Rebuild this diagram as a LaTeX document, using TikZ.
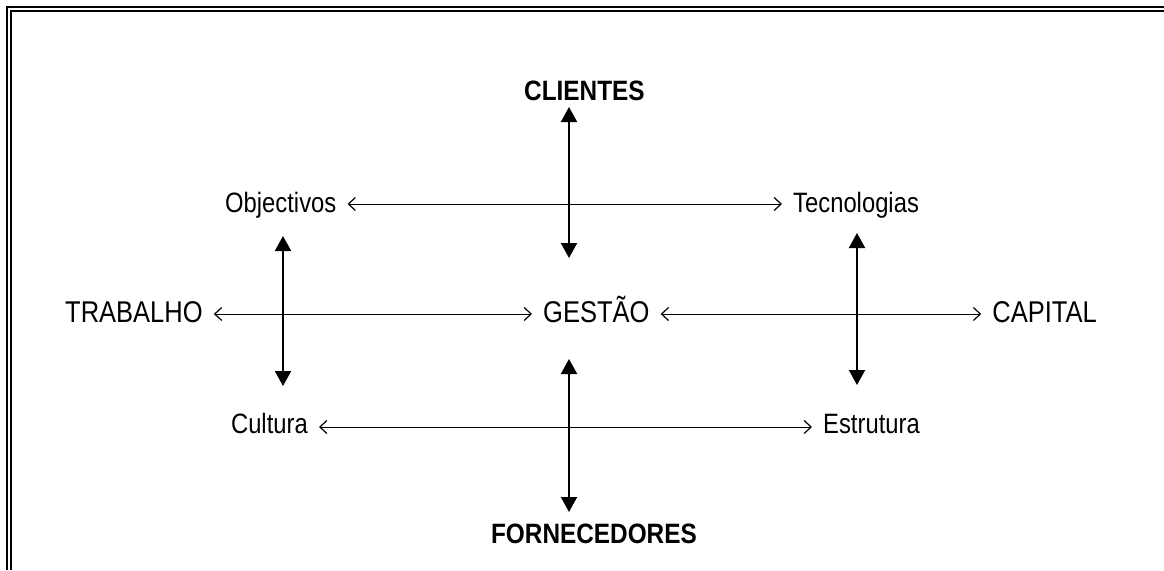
\documentclass[tikz,border=0pt]{standalone}
\usepackage{fontspec}
\newfontfamily\narrowsans[FakeStretch=0.85]{Liberation Sans}
\newfontfamily\narrowboldsans[FakeStretch=0.87]{Liberation Sans}
\usetikzlibrary{arrows.meta}
\begin{document}
\begin{tikzpicture}[x=1pt,y=-1pt,
  big/.style={font=\narrowsans\fontsize{30}{36}\selectfont, inner sep=0pt},
  small/.style={font=\narrowsans\fontsize{28}{34}\selectfont, inner sep=0pt},
  head/.style={font=\narrowboldsans\bfseries\fontsize{28}{34}\selectfont, inner sep=0pt},
  barb/.tip={Straight Barb[length=7pt,width=13pt,line width=1.2pt]},
  link/.style={line width=1pt, shorten <=11pt, shorten >=11pt, barb-barb},
  bond/.style={line width=2pt, {Triangle[length=15pt,width=16pt]}-{Triangle[length=15pt,width=16pt]}},
  framing/.style={line width=2pt}]
\useasboundingbox (0,0) rectangle (1164,570);

% frame (double line, left and top)
\draw[framing] (7,570) -- (7,7) -- (1164,7);
\draw[framing] (11,570) -- (11,11) -- (1164,11);

% headings
\node[head, anchor=base west] (cli) at (524,100) {CLIENTES};
\node[head, anchor=base east] (forn) at (697,543) {FORNECEDORES};

% row 1
\node[small, text height=20pt, text depth=4pt, anchor=west] (obj) at (225,204) {Objectivos};
\node[small, text height=20pt, text depth=4pt, anchor=west] (tec) at (793,204) {Tecnologias};

% row 2
\node[big, text height=22pt, text depth=6pt, anchor=west] (trab) at (65,314) {TRABALHO};
\node[big, text height=22pt, text depth=6pt, anchor=west] (ges) at (543,314) {GESTÃO};
\node[big, text height=22pt, text depth=6pt, anchor=east] (cap) at (1097,314) {CAPITAL};

% row 3
\node[small, text height=20pt, text depth=8pt, anchor=east] (cul) at (308,427) {Cultura};
\node[small, text height=20pt, text depth=8pt, anchor=west] (est) at (823,427) {Estrutura};

% horizontal connectors
\draw[link] (obj) -- (tec);
\draw[link] (trab) -- (ges);
\draw[link] (ges) -- (cap);
\draw[link] (cul) -- (est);

% vertical connectors
\coordinate (ct1) at (569,107);
\coordinate (ct2) at (569,258);
\coordinate (cb1) at (569,359);
\coordinate (cb2) at (569,512);
\coordinate (l1) at (283,236);
\coordinate (l2) at (283,386);
\coordinate (r1) at (857,233);
\coordinate (r2) at (857,385);
\draw[bond] (ct1) -- (ct2);
\draw[bond] (cb1) -- (cb2);
\draw[bond] (l1) -- (l2);
\draw[bond] (r1) -- (r2);
\end{tikzpicture}
\end{document}
